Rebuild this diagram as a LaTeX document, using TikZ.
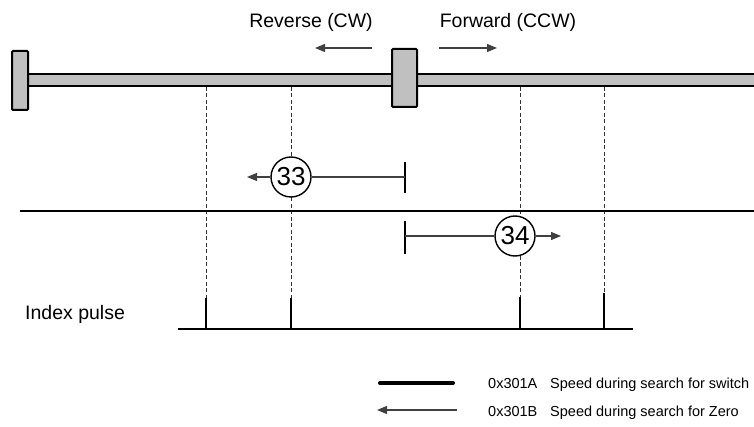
\documentclass[tikz,border=0pt]{standalone}
\usepackage{fontspec}
\setmainfont{Liberation Sans}
\usetikzlibrary{arrows.meta,positioning}
\definecolor{RailGray}{HTML}{C0C0C0}
\definecolor{ArrowGray}{HTML}{404040}
\definecolor{DashGray}{HTML}{333333}

\begin{document}
\begin{tikzpicture}[x=1pt, y=-1pt,
    lbl/.style={font=\fontsize{19.5}{22}\selectfont, inner sep=0pt},
    legtext/.style={font=\fontsize{14.5}{16}\selectfont, inner sep=0pt, anchor=base west},
    block/.style={draw, line width=2pt, fill=RailGray, rounded corners=1pt, inner sep=0pt},
    speednode/.style={draw, circle, line width=1.4pt, fill=white, minimum size=40pt, inner sep=0pt, font=\fontsize{26}{28}\selectfont},
    arr/.style={-{Triangle[length=10pt, width=8pt]}, line width=1.2pt, draw=ArrowGray},
    tick/.style={line width=2pt},
    refline/.style={line width=2pt},
    guide/.style={draw=DashGray, line width=0.9pt, dash pattern=on 4pt off 2.5pt}
]
\useasboundingbox (0,0) rectangle (754,427);

% direction labels
\node[lbl, anchor=base] (rev) at (311,28) {Reverse (CW)};
\node[lbl, anchor=base] (fwd) at (508,28) {Forward (CCW)};
\coordinate (revS) at (372,48);
\coordinate (revE) at (315,48);
\coordinate (fwdS) at (439,48);
\coordinate (fwdE) at (497,48);
\draw[arr] (revS) -- (revE);
\draw[arr] (fwdS) -- (fwdE);

% guide lines
\foreach \gx/\gy in {206/298, 291/298, 520/297, 604/293}
  \draw[guide] (\gx,87) -- (\gx,\gy);

% rail and switches
\draw[fill=RailGray, line width=2pt] (28,74) rectangle (758,86);
\node[block, minimum width=16pt, minimum height=59pt] (limit) at (20,80.5) {};
\node[block, minimum width=25pt, minimum height=58pt] (home) at (404.5,78) {};

% search for zero
\node[speednode] (s33) at (291,177) {33};
\node[speednode] (s34) at (515,236) {34};
\coordinate (t33a) at (405,162);
\coordinate (t33b) at (405,193);
\coordinate (t33) at (405,177);
\coordinate (e33) at (247,177);
\draw[tick] (t33a) -- (t33b);
\draw[line width=1.2pt, draw=ArrowGray] (t33) -- (s33.east);
\draw[arr] (s33.west) -- (e33);

\draw[refline] (20,211) -- (758,211);

\coordinate (t34a) at (405,221);
\coordinate (t34b) at (405,254);
\coordinate (t34) at (405,236);
\coordinate (e34) at (561,236);
\draw[tick] (t34a) -- (t34b);
\draw[line width=1.2pt, draw=ArrowGray] (t34) -- (s34.west);
\draw[arr] (s34.east) -- (e34);

% index pulse
\node[lbl, anchor=base west] (idx) at (25,319) {Index pulse};
\draw[refline] (178,329) -- (633,329);
\foreach \gx/\gy in {206/298, 291/298, 520/297, 604/293}
  \draw[tick] (\gx,329) -- (\gx,\gy);

% legend
\coordinate (lg1a) at (380,383);
\coordinate (lg1b) at (453,383);
\draw[line width=4pt, line cap=round] (lg1a) -- (lg1b);
\node[legtext] (codeA) at (488,388) {0x301A};
\node[legtext] (descA) at (550,388) {Speed during search for switch};
\coordinate (lg2a) at (457,410);
\coordinate (lg2b) at (377,410);
\draw[arr] (lg2a) -- (lg2b);
\node[legtext] (codeB) at (488,416) {0x301B};
\node[legtext] (descB) at (550,416) {Speed during search for Zero};
\end{tikzpicture}
\end{document}
